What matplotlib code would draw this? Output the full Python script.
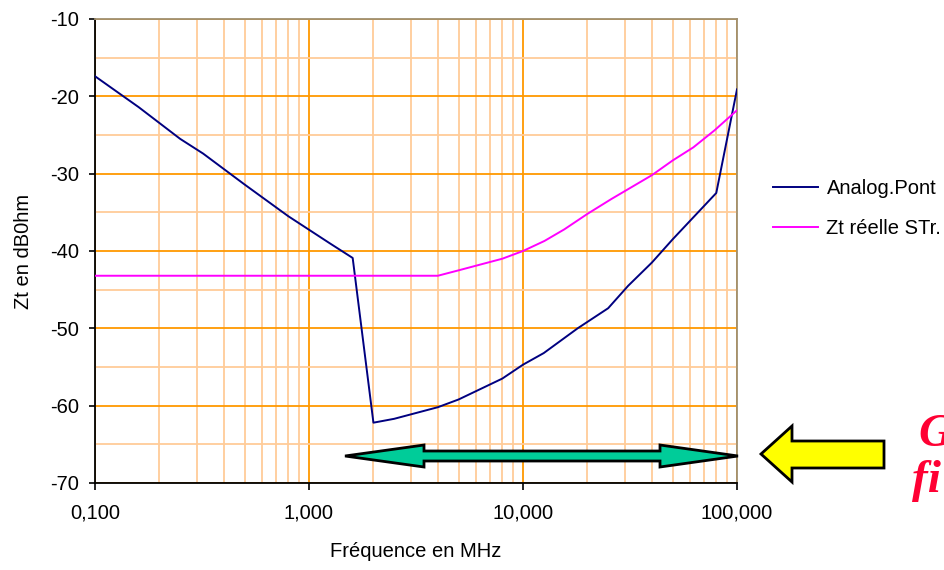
import numpy as np
import matplotlib
matplotlib.use("Agg")
import matplotlib.pyplot as plt
from matplotlib.patches import Polygon
from matplotlib.ticker import FixedLocator, FixedFormatter, NullFormatter

plt.rcParams['font.family'] = ['Liberation Sans', 'DejaVu Sans']
plt.rcParams['axes.unicode_minus'] = False

# --- donnees ---
freq_pont = [0.1, 0.16, 0.25, 0.32, 0.5, 0.8, 1.25, 1.6, 2.0, 2.5, 4.0, 5.0,
             8.0, 10.0, 12.5, 18.0, 25.0, 31.0, 40.0, 50.0, 80.0, 100.0]
zt_pont = [-17.4, -21.4, -25.5, -27.4, -31.4, -35.5, -39.0, -40.9, -62.2, -61.7, -60.2, -59.2,
           -56.5, -54.7, -53.2, -50.0, -47.4, -44.5, -41.5, -38.5, -32.5, -19.1]

freq_str = [0.1, 4.0, 5.0, 8.0, 10.0, 12.6, 15.6, 20.0, 25.8, 40.0, 50.0, 62.5, 78.5, 100.0]
zt_str = [-43.2, -43.2, -42.5, -41.0, -40.0, -38.7, -37.2, -35.2, -33.3, -30.2, -28.3, -26.6, -24.4, -21.8]

xticks = [0.1, 1, 10, 100]
xlabels = ["0,100", "1,000", "10,000", "100,000"]
yticks = [-70, -60, -50, -40, -30, -20, -10]

W, H = 945, 570
fig = plt.figure(figsize=(9.45, 5.7), dpi=100)
ax = fig.add_axes([95 / W, 1 - 483 / H, (737 - 95) / W, (483 - 19) / H])

ax.plot(freq_pont, zt_pont, color="#000080", lw=1.4, label="Analog.Pont", zorder=3)
ax.plot(freq_str, zt_str, color="#FF00FF", lw=1.4, label="Zt réelle STr.", zorder=3)

ax.set_xscale("log")
ax.set_xlim(0.1, 100)
ax.set_ylim(-70, -10)

minor_x = [m * 10.0 ** e for e in (-1, 0, 1) for m in range(2, 10)]
ax.xaxis.set_major_locator(FixedLocator(xticks))
ax.xaxis.set_major_formatter(FixedFormatter(xlabels))
ax.xaxis.set_minor_locator(FixedLocator(minor_x))
ax.xaxis.set_minor_formatter(NullFormatter())
ax.set_yticks(yticks)
ax.set_yticks(np.arange(-65, -10, 10), minor=True)

ax.grid(which="minor", color="#FFCC99", lw=1.3)
ax.grid(which="major", color="#FF9900", lw=1.3)
ax.set_axisbelow(True)

ax.tick_params(which="major", direction="out", width=1.2, labelsize=14.5)
ax.tick_params(which="minor", length=0)
ax.tick_params(axis="y", length=4.5, pad=7)
ax.tick_params(axis="x", length=5, pad=10)

for s in ("left", "bottom"):
    ax.spines[s].set_color("black")
    ax.spines[s].set_linewidth(1.3)
for s in ("top", "right"):
    ax.spines[s].set_color("#A09070")
    ax.spines[s].set_linewidth(1.3)

ax.set_xlabel("Fréquence en MHz", fontsize=14.5, labelpad=14)
ax.set_ylabel("Zt en dB0hm", fontsize=14.5, labelpad=12)

fig.legend(loc="upper left", bbox_to_anchor=(755 / W, 1 - 161 / H), frameon=False,
           fontsize=14.5, handlelength=2.25, handletextpad=0.4, labelspacing=1.05)


def px(pts):
    return [(x / W, 1 - y / H) for x, y in pts]


# double fleche turquoise
yc = 456
teal = [(345, yc), (424, yc - 11), (424, yc - 5), (660, yc - 5), (660, yc - 11), (738, yc),
        (660, yc + 11), (660, yc + 5), (424, yc + 5), (424, yc + 11)]
fig.patches.append(Polygon(px(teal), closed=True, transform=fig.transFigure,
                           facecolor="#00CC99", edgecolor="black", lw=2, zorder=5))

# fleche jaune
yy = 454
yellow = [(761, yy), (792, yy - 28), (792, yy - 13), (884, yy - 13), (884, yy + 14),
          (792, yy + 14), (792, yy + 28)]
fig.patches.append(Polygon(px(yellow), closed=True, transform=fig.transFigure,
                           facecolor="#FFFF00", edgecolor="black", lw=2, zorder=5))

fig.text(918 / W, 1 - 446 / H, "G", color="#FF0033", fontsize=34, family="Liberation Serif",
         style="italic", weight="bold", ha="left", va="baseline")
fig.text(912 / W, 1 - 492 / H, "fi", color="#FF0033", fontsize=34, family="Liberation Serif",
         style="italic", weight="bold", ha="left", va="baseline")

fig.savefig("out.png", dpi=100)
